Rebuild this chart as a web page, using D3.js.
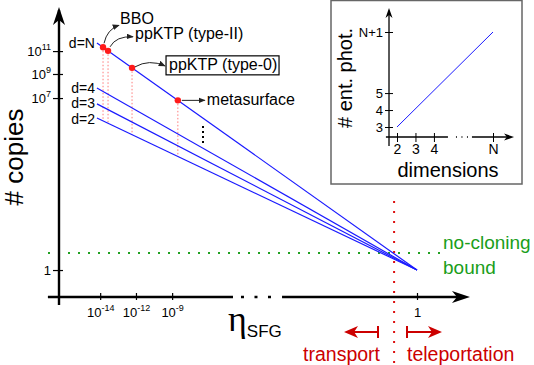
<!DOCTYPE html>
<html>
<head>
<meta charset="utf-8">
<script src="https://cdn.jsdelivr.net/npm/d3@7"></script>
<style>
  body { margin: 0; background: #fff; }
  svg { display: block; font-family: "Liberation Sans", Arial, sans-serif; }
</style>
</head>
<body>
<svg width="534" height="365"></svg>
<script>
// Schematic units: x runs 0 (y axis) .. 1 (eta = 1), y runs 0 (x axis) .. 1 (top)
const xTickVals = [0.115, 0.215, 0.316, 1];
const xTickBase = ["10", "10", "10", "1"];
const xTickSup = ["-14", "-12", "-9", ""];
const yTickVals = [0.848, 0.769, 0.686, 0.093];
const yTickBase = ["10", "10", "10", "1"];
const yTickSup = ["11", "9", "7", ""];

const dimLabels = ["d=N", "d=4", "d=3", "d=2"];
const lineStartX = 0.106;
const lineStartY = [0.876, 0.721, 0.666, 0.617];
const convergence = [1, 0.093]; // eta = 1, copies = 1

const sources = ["BBO", "ppKTP (type-II)", "ppKTP (type-0)", "metasurface"];
const sourceX = [0.123, 0.137, 0.204, 0.332];

const noCloning = 0.152;
const regimeSplit = 0.936;
const xBreak = [0.486, 0.623];

// inset: # entangled photons vs dimensions
const insetXVals = [2, 3, 4, 7.2];
const insetXLabels = ["2", "3", "4", "N"];
const insetYVals = [3, 4, 5, 8.6];
const insetYLabels = ["3", "4", "5", "N+1"];
const insetLine = [[2, 3], [7.2, 8.6]];
const insetBreak = [4.76, 6.06];

const svg = d3.select("svg");
const BLUE = "#1a1aff";

const x = d3.scaleLinear().domain([0, 1]).range([59, 417]);
const y = d3.scaleLinear().domain([0, 1]).range([297, 7]);

// filled arrow head with tip at (tx, ty) pointing at angle (deg)
const arrowHead = (g, tx, ty, angle, len, half, color) => {
  g.append("path")
    .attr("d", `M0,0 L${-len},${-half} L${-len * 0.72},0 L${-len},${half} Z`)
    .attr("transform", `translate(${tx},${ty}) rotate(${angle})`)
    .attr("fill", color);
};

// no-cloning bound
svg.append("line")
  .attr("x1", 48).attr("x2", 440)
  .attr("y1", y(noCloning)).attr("y2", y(noCloning))
  .attr("stroke", "#22a022").attr("stroke-width", 2)
  .attr("stroke-dasharray", "2,8");

// transport / teleportation split
svg.append("line")
  .attr("x1", x(regimeSplit)).attr("x2", x(regimeSplit))
  .attr("y1", 201).attr("y2", 365)
  .attr("stroke", "#dd1111").attr("stroke-width", 2)
  .attr("stroke-dasharray", "2,8");

// pink guides from the sources down to d=2
const lineY = (i, xv) => {
  const t = (xv - lineStartX) / (convergence[0] - lineStartX);
  return lineStartY[i] + t * (convergence[1] - lineStartY[i]);
};
svg.append("g").selectAll("line").data(sourceX).join("line")
  .attr("x1", d => x(d)).attr("x2", d => x(d))
  .attr("y1", d => y(lineY(0, d))).attr("y2", d => y(lineY(3, d)))
  .attr("stroke", "#ff7a7a").attr("stroke-width", 1)
  .attr("stroke-dasharray", "1.5,2");

// lines for each dimension
const line = d3.line().x(d => x(d[0])).y(d => y(d[1]));
svg.append("g").selectAll("path").data(lineStartY).join("path")
  .attr("d", d => line([[lineStartX, d], convergence]))
  .attr("fill", "none").attr("stroke", BLUE).attr("stroke-width", 1.2);

const labelNudge = [5, 5, 4, 6]; // keep d=3 / d=2 apart
svg.append("g").selectAll("text").data(dimLabels).join("text")
  .attr("x", x(lineStartX) - 2)
  .attr("y", (d, i) => y(lineStartY[i]) + labelNudge[i])
  .attr("text-anchor", "end").attr("font-size", 14)
  .text(d => d);

// vertical ellipsis
svg.append("line")
  .attr("x1", 203).attr("x2", 203).attr("y1", 126).attr("y2", 145)
  .attr("stroke", "#000").attr("stroke-width", 2).attr("stroke-dasharray", "2,3");

// source dots
svg.append("g").selectAll("circle").data(sourceX).join("circle")
  .attr("cx", d => x(d)).attr("cy", d => y(lineY(0, d)))
  .attr("r", 3.2).attr("fill", "#ff1a1a");

// annotations
svg.append("defs").append("marker")
  .attr("id", "ah").attr("viewBox", "0 0 10 8")
  .attr("refX", 9).attr("refY", 4)
  .attr("markerWidth", 7).attr("markerHeight", 6)
  .attr("markerUnits", "userSpaceOnUse")
  .attr("orient", "auto")
  .append("path").attr("d", "M0,0 L10,4 L0,8 Z").attr("fill", "#222");

const ann = svg.append("g").attr("fill", "none").attr("stroke", "#222").attr("stroke-width", 1);
const p0 = [x(sourceX[0]), y(lineY(0, sourceX[0]))];
const p1 = [x(sourceX[1]), y(lineY(0, sourceX[1]))];
const p2 = [x(sourceX[2]), y(lineY(0, sourceX[2]))];
const p3 = [x(sourceX[3]), y(lineY(0, sourceX[3]))];
ann.append("path").attr("d", `M${p0[0] + 1},${p0[1] - 4} Q${p0[0] + 4},${p0[1] - 18} ${p0[0] + 16},${p0[1] - 22}`)
  .attr("marker-end", "url(#ah)");
ann.append("path").attr("d", `M${p1[0] + 2},${p1[1] - 4} Q${p1[0] + 8},${p1[1] - 15} ${p1[0] + 25},${p1[1] - 14}`)
  .attr("marker-end", "url(#ah)");
ann.append("path").attr("d", `M${p2[0] + 3},${p2[1] - 1} Q${p2[0] + 17},${p2[1] - 9} ${p2[0] + 33},${p2[1] - 2}`)
  .attr("marker-end", "url(#ah)");
ann.append("path").attr("d", `M${p3[0] + 4},${p3[1]} L${p3[0] + 27},${p3[1]}`)
  .attr("marker-end", "url(#ah)");

const annText = [
  { t: sources[0], x: p0[0] + 17, y: p0[1] - 23 },
  { t: sources[1], x: p1[0] + 27, y: p1[1] - 12 },
  { t: sources[2], x: p2[0] + 37, y: p2[1] + 2 },
  { t: sources[3], x: p3[0] + 29, y: p3[1] + 5 }
];
svg.append("g").selectAll("text").data(annText).join("text")
  .attr("x", d => d.x).attr("y", d => d.y)
  .attr("font-size", 16).text(d => d.t);
svg.append("rect")
  .attr("x", annText[2].x - 3).attr("y", annText[2].y - 14)
  .attr("width", 113).attr("height", 19)
  .attr("fill", "none").attr("stroke", "#000").attr("stroke-width", 1.2);

// main axes
const axisG = svg.append("g").attr("stroke", "#000").attr("stroke-width", 2.4);
axisG.append("line").attr("x1", x(0)).attr("x2", x(0)).attr("y1", y(-0.028)).attr("y2", y(0.99));
axisG.append("line").attr("x1", x(-0.031)).attr("x2", x(xBreak[0])).attr("y1", y(0)).attr("y2", y(0));
axisG.append("line").attr("x1", x(xBreak[1])).attr("x2", x(1.13)).attr("y1", y(0)).attr("y2", y(0));
axisG.append("line").attr("x1", x(xBreak[0]) + 8).attr("x2", x(xBreak[1]) - 10).attr("y1", y(0)).attr("y2", y(0))
  .attr("stroke-dasharray", "3,10.5");
arrowHead(svg, x(0), y(1), -90, 18, 6, "#000");
arrowHead(svg, x(1.148), y(0), 0, 18, 6, "#000");

const yAx = svg.append("g").attr("transform", `translate(${x(0)},0)`)
  .call(d3.axisLeft(y).tickValues(yTickVals).tickSize(6).tickPadding(2).tickFormat(() => ""));
yAx.select(".domain").remove();
yAx.selectAll(".tick line").attr("x1", 4).attr("x2", -6).attr("stroke-width", 1.2);
yAx.selectAll(".tick text")
  .attr("font-size", 13).attr("font-family", "Liberation Sans, Arial, sans-serif").attr("fill", "#000")
  .attr("dy", "0.35em")
  .each(function(d, i) {
    const t = d3.select(this);
    t.append("tspan").text(yTickBase[i]);
    if (yTickSup[i]) t.append("tspan").attr("font-size", 9).attr("dy", -6).text(yTickSup[i]);
  });

const xAx = svg.append("g").attr("transform", `translate(0,${y(0)})`)
  .call(d3.axisBottom(x).tickValues(xTickVals).tickSize(3).tickPadding(8).tickFormat(() => ""));
xAx.select(".domain").remove();
xAx.selectAll(".tick line").attr("y1", -4).attr("y2", 3).attr("stroke-width", 1.2);
xAx.selectAll(".tick text")
  .attr("font-size", 13).attr("font-family", "Liberation Sans, Arial, sans-serif").attr("fill", "#000")
  .each(function(d, i) {
    const t = d3.select(this);
    t.append("tspan").text(xTickBase[i]);
    if (xTickSup[i]) t.append("tspan").attr("font-size", 9).attr("dy", -6).text(xTickSup[i]);
  });

// axis titles
svg.append("text")
  .attr("transform", "translate(23,157) rotate(-90)")
  .attr("text-anchor", "middle").attr("font-size", 26)
  .text("# copies");
const eta = svg.append("text").attr("x", 228).attr("y", 331);
eta.append("tspan").attr("font-family", "Liberation Serif, serif").attr("font-size", 36).text("η");
eta.append("tspan").attr("font-size", 17).attr("dy", 6).text("SFG");

// no-cloning label
svg.append("text").attr("x", 443).attr("y", 249).attr("font-size", 19).attr("fill", "#1a9e1a").text("no-cloning");
svg.append("text").attr("x", 443).attr("y", 274).attr("font-size", 19).attr("fill", "#1a9e1a").text("bound");

// regime arrows
const RED = "#cc0000";
const reg = svg.append("g").attr("stroke", RED).attr("stroke-width", 2);
reg.append("line").attr("x1", 378).attr("x2", 352).attr("y1", 332).attr("y2", 332);
reg.append("line").attr("x1", 378).attr("x2", 378).attr("y1", 326).attr("y2", 338);
reg.append("line").attr("x1", 407).attr("x2", 434).attr("y1", 332).attr("y2", 332);
reg.append("line").attr("x1", 407).attr("x2", 407).attr("y1", 326).attr("y2", 338);
arrowHead(svg, 344, 332, 180, 14, 6, RED);
arrowHead(svg, 442, 332, 0, 14, 6, RED);
svg.append("text").attr("x", 380).attr("y", 361).attr("text-anchor", "end").attr("font-size", 19.5).attr("fill", RED).text("transport");
svg.append("text").attr("x", 407).attr("y", 361).attr("font-size", 19.5).attr("fill", RED).text("teleportation");

// inset
const inset = svg.append("g");
inset.append("rect").attr("x", 331).attr("y", 0.5).attr("width", 191).attr("height", 183.5)
  .attr("fill", "#fff").attr("stroke", "#666").attr("stroke-width", 1.5);

const xi = d3.scaleLinear().domain([2, 7.2]).range([397, 493]);
const yi = d3.scaleLinear().domain([3, 8.6]).range([127, 32]);

const ia = inset.append("g").attr("stroke", "#000").attr("stroke-width", 1.3);
ia.append("line").attr("x1", xi(1.567)).attr("x2", xi(1.567)).attr("y1", yi(1.88)).attr("y2", yi(9.8));
ia.append("line").attr("x1", xi(1.4)).attr("x2", xi(insetBreak[0])).attr("y1", yi(2.41)).attr("y2", yi(2.41));
ia.append("line").attr("x1", xi(insetBreak[1])).attr("x2", xi(8.1)).attr("y1", yi(2.41)).attr("y2", yi(2.41));
ia.append("line").attr("x1", xi(insetBreak[0]) + 8).attr("x2", xi(insetBreak[1]) - 4).attr("y1", yi(2.41)).attr("y2", yi(2.41))
  .attr("stroke-dasharray", "1,4.5");
arrowHead(inset, xi(1.567), yi(10.02), -90, 10, 3.5, "#000");
arrowHead(inset, xi(8.34), yi(2.41), 0, 10, 3.5, "#000");

inset.append("path")
  .attr("d", d3.line().x(d => xi(d[0])).y(d => yi(d[1]))(insetLine))
  .attr("fill", "none").attr("stroke", BLUE).attr("stroke-width", 1);

const iy = inset.append("g").attr("transform", `translate(${xi(1.567)},0)`)
  .call(d3.axisLeft(yi).tickValues(insetYVals).tickSize(4).tickPadding(2).tickFormat((d, i) => insetYLabels[i]));
iy.select(".domain").remove();
iy.selectAll(".tick line").attr("x1", 4).attr("x2", -4);
iy.selectAll(".tick text").attr("font-size", 13).attr("font-family", "Liberation Sans, Arial, sans-serif").attr("dy", "0.36em");

const ix = inset.append("g").attr("transform", `translate(0,${yi(2.41)})`)
  .call(d3.axisBottom(xi).tickValues(insetXVals).tickSize(5).tickPadding(2).tickFormat((d, i) => insetXLabels[i]));
ix.select(".domain").remove();
ix.selectAll(".tick line").attr("y1", -4).attr("y2", 5);
ix.selectAll(".tick text").attr("font-size", 14).attr("font-family", "Liberation Sans, Arial, sans-serif");

inset.append("text").attr("x", 448).attr("y", 177).attr("text-anchor", "middle").attr("font-size", 20).text("dimensions");
inset.append("text").attr("transform", "translate(352,78) rotate(-90)")
  .attr("text-anchor", "middle").attr("font-size", 20).text("# ent. phot.");
</script>
</body>
</html>
